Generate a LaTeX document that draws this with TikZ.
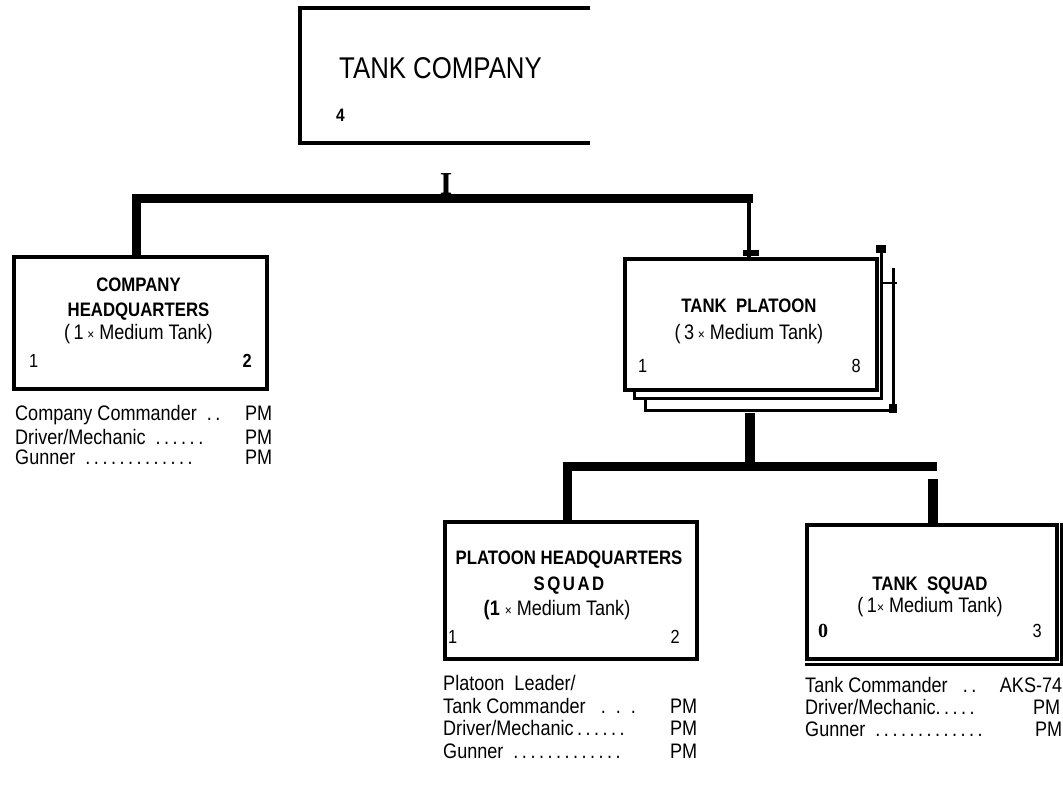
\documentclass[tikz,border=0pt]{standalone}
\usepackage{fontspec}
\usetikzlibrary{calc}
\setmainfont{Liberation Sans}[FakeStretch=0.86]
\newfontfamily\serifbf{Liberation Serif}
\newcommand\tms{{\fontsize{14}{14}\selectfont ×}}
\newcommand\rowline[3]{\makebox[#1][l]{#2\hfill #3}}
\begin{document}
\begin{tikzpicture}[x=1pt,y=-1pt,
  box/.style={draw, line width=4pt, anchor=north west, inner sep=0pt, fill=white},
  title/.style={font=\fontsize{19.5}{21}\selectfont\bfseries, anchor=base, inner sep=0pt},
  sub/.style={font=\fontsize{21}{23}\selectfont, anchor=base, inner sep=0pt},
  num/.style={font=\fontsize{19}{21}\selectfont, inner sep=0pt},
  item/.style={font=\fontsize{21}{23}\selectfont, anchor=base west, inner sep=0pt},
  backline/.style={line width=3pt, line join=miter},
  bar/.style={line width=9pt, line join=miter},
  stem/.style={line width=10pt}]
\useasboundingbox (0,0) rectangle (1063,786);

% ---------- top box (open at right)
\node[anchor=north west, minimum width=290pt, minimum height=135pt, inner sep=0pt] (co) at (300,8) {};
\draw[line width=4pt, line join=miter] (co.north east) -- (co.north west) -- (co.south west) -- (co.south east);
\node[anchor=base west, inner sep=0pt, font=\fontsize{30}{32}\selectfont] (cot) at (339,79) {TANK COMPANY};
\node[anchor=base west, inner sep=0pt, font=\fontsize{18}{19}\selectfont\bfseries] (con) at (336,122) {4};
\node[anchor=base, inner sep=0pt, font=\serifbf\fontsize{32}{34}\selectfont\bfseries] (stub) at (446,195) {I};

% ---------- company headquarters
\node[box, minimum width=253pt, minimum height=132pt] (hq) at (12,255) {};
\node[title] (hq1) at (138.5,292) {COMPANY};
\node[title] (hq2) at (138.5,317) {HEADQUARTERS};
\node[sub] (hq3) at (138.5,340) {(\,1\,\tms\ Medium Tank)};
\node[num, anchor=base west] (hqa) at (29,367) {1};
\node[num, anchor=base east, font=\fontsize{19}{21}\selectfont\bfseries] (hqb) at (252,367) {2};
\node[item] (hql1) at (15,420) {\rowline{257pt}{Company Commander\ \ .\,.}{PM}};
\node[item] (hql2) at (15,444) {\rowline{257pt}{Driver/Mechanic\ \ .\,.\,.\,.\,.\,.}{PM}};
\node[item] (hql3) at (15,464) {\rowline{257pt}{Gunner\ \ .\,.\,.\,.\,.\,.\,.\,.\,.\,.\,.\,.\,.}{PM}};

% ---------- tank platoon (stacked)
\draw[backline] (893,268) -- (893,410) -- (645,410) -- (645,400);
\draw[line width=2pt] (880,283) -- (897,283);
\fill (889,404) rectangle (897,413);
\draw[backline] (881,247) -- (881,398) -- (634,398) -- (634,392);
\fill (876,245) rectangle (886,253);
\node[box, minimum width=252pt, minimum height=131pt] (plt) at (623,257) {};
\node[title] (plt1) at (749,313) {TANK\ \ PLATOON};
\node[sub] (plt2) at (749,340) {(\,3\,\tms\ Medium Tank)};
\node[num, anchor=base west] (plta) at (638,372) {1};
\node[num, anchor=base east] (pltb) at (861,372) {8};
\coordinate (pltbot) at (750,413);

% ---------- platoon headquarters squad
\node[box, minimum width=252pt, minimum height=137pt] (phq) at (443,520) {};
\node[title] (phq1) at (569,564) {PLATOON HEADQUARTERS};
\node[title] (phq2) at (569,590) {S\kern2.5pt Q\kern2.5pt U\kern2.5pt A\kern2.5pt D};
\node[sub] (phq3) at (557,615) {\textbf{(1} \tms\ Medium Tank)};
\node[num, anchor=base west] (phqa) at (448,643) {1};
\node[num, anchor=base east] (phqb) at (680,643) {2};
\node[item] (phql0) at (443,690) {Platoon\ \ Leader/};
\node[item] (phql1) at (443,713) {\rowline{254pt}{Tank Commander\ \ \ .\ \ .\ \ .}{PM}};
\node[item] (phql2) at (443,735) {\rowline{254pt}{Driver/Mechanic\,.\,.\,.\,.\,.\,.}{PM}};
\node[item] (phql3) at (443,758) {\rowline{254pt}{Gunner\ \ .\,.\,.\,.\,.\,.\,.\,.\,.\,.\,.\,.\,.}{PM}};

% ---------- tank squad (stacked)
\draw[backline] (805,664) -- (1061,664) -- (1061,523);
\node[box, minimum width=250pt, minimum height=134pt] (sq) at (805,523) {};
\node[title] (sq1) at (930,590) {TANK\ \ SQUAD};
\node[sub] (sq2) at (930,612) {(\,1\tms\ Medium Tank)};
\node[anchor=base west, inner sep=0pt, font=\serifbf\fontsize{20}{22}\selectfont\bfseries] (sqa) at (818,637) {0};
\node[num, anchor=base east] (sqb) at (1042,637) {3};
\node[item] (sql1) at (805,692) {\rowline{257pt}{Tank Commander\ \ \ .\,.}{AKS-74}};
\node[item] (sql2) at (805,714) {\rowline{255pt}{Driver/Mechanic.\,.\,.\,.\,.}{PM}};
\node[item] (sql3) at (805,736) {\rowline{257pt}{Gunner\ \ .\,.\,.\,.\,.\,.\,.\,.\,.\,.\,.\,.\,.}{PM}};

% ---------- connectors: company level
\coordinate (j1) at (136,199);
\coordinate (j2) at (749,199);
\draw[bar] (j1 |- hq.north) -- (j1) -- ($(j2)+(4,0)$);
\draw[line width=4.5pt] ($(j2)+(0,-4)$) -- (j2 |- plt.north);
\fill ($(plt.north)+(-8,-7)$) rectangle ($(plt.north)+(8,-1)$);

% ---------- connectors: platoon level
\coordinate (k0) at (750,462);
\coordinate (k1) at (567,466);
\coordinate (k2) at (937,466);
\coordinate (k3) at (933,479);
\draw[stem] (pltbot) -- (k0);
\draw[bar] (k1 |- phq.north) -- (k1) -- (k2);
\draw[stem] (k3) -- (k3 |- sq.north);
\end{tikzpicture}
\end{document}
